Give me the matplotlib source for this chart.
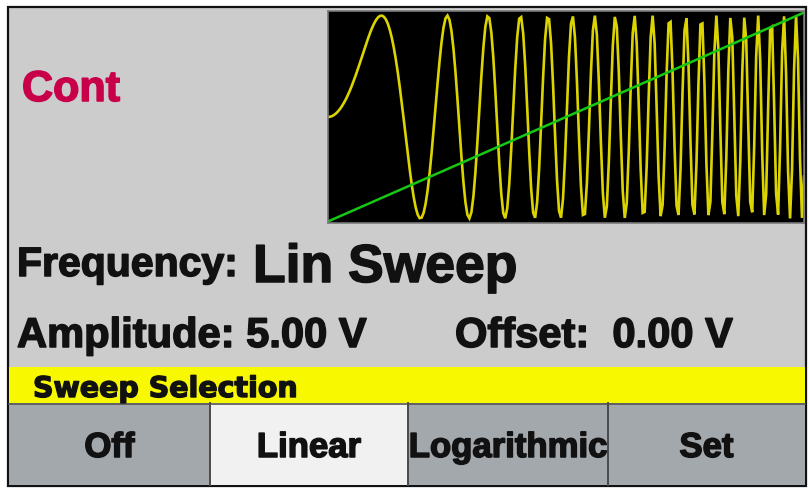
import numpy as np
import matplotlib
matplotlib.use("Agg")
import matplotlib.pyplot as plt
from matplotlib.patches import Rectangle
import matplotlib.patheffects as pe

# ---- screen content ----
mode_label = "Cont"
freq_label = "Frequency:"
freq_value = "Lin Sweep"
amp_label = "Amplitude:"
amp_value = 5.00          # V
offset_label = "Offset:"
offset_value = 0.00       # V
menu_title = "Sweep Selection"
softkeys = ["Off", "Linear", "Logarithmic", "Set"]
selected_key = "Linear"

# sweep preview parameters: linear chirp starting at 0 Hz
sweep_cycles = 19.9       # cycles reached across the preview window
preview_samples = 240     # display sample columns of the preview
ramp_start, ramp_end = -1.03, 1.03   # sweep ramp (normalised)

# ---- colours ----
BG = "#cccccc"
KEY_GRAY = "#a3a8ad"
KEY_SEL = "#f1f1f1"
BAR_YEL = "#f8f800"
MODE_RED = "#c8004a"
WAVE_YEL = "#dcd400"
RAMP_GRN = "#14c814"
INK = "#111111"

W, H = 809, 491
fig = plt.figure(figsize=(W / 100, H / 100), dpi=100)
fig.patch.set_facecolor("white")
ax = fig.add_axes([0, 0, 1, 1])
ax.set_xlim(0, W)
ax.set_ylim(H, 0)
ax.axis("off")


def heavy(color, w=1.1):
    return [pe.withStroke(linewidth=w, foreground=color)]


# screen frame
ax.add_patch(Rectangle((8, 7), 798, 479, facecolor=BG, edgecolor="#111111", lw=1.6, zorder=1))

# yellow menu title bar
ax.add_patch(Rectangle((9, 367), 796, 36, facecolor=BAR_YEL, edgecolor="none", zorder=2))

# softkeys
key_edges = [9, 210, 408, 608, 805]
for i, key in enumerate(softkeys):
    x0, x1 = key_edges[i], key_edges[i + 1]
    fc = KEY_SEL if key == selected_key else KEY_GRAY
    ax.add_patch(Rectangle((x0, 403), x1 - x0, 82, facecolor=fc, edgecolor="none", zorder=2))
    ax.text((x0 + x1) / 2, 457, key, ha="center", va="baseline",
            fontsize=25, fontweight="bold", family="Liberation Sans", color=INK, zorder=4,
            path_effects=heavy(INK))
ax.plot([9, 805], [403.5, 403.5], color="#555555", lw=1.2, zorder=3)
for xe in key_edges[1:-1]:
    ax.plot([xe, xe], [403, 485], color="#4a4a4a", lw=1.4, zorder=3)

ax.text(33, 397, menu_title, ha="left", va="baseline", fontsize=20.5,
        fontweight="bold", family="DejaVu Sans", color=INK, zorder=4,
        path_effects=heavy(INK, 1.0))

# text lines
ax.text(22, 101, mode_label, ha="left", va="baseline", fontsize=31,
        fontweight="bold", family="Liberation Sans", color=MODE_RED, zorder=4,
        path_effects=heavy(MODE_RED))
ax.text(17, 276, freq_label, ha="left", va="baseline", fontsize=29.5,
        fontweight="bold", family="Liberation Sans", color=INK, zorder=4,
        path_effects=heavy(INK))
ax.text(253, 282, freq_value, ha="left", va="baseline", fontsize=38.5,
        fontweight="bold", family="Liberation Sans", color=INK, zorder=4,
        path_effects=heavy(INK))
ax.text(17, 347, f"{amp_label} {amp_value:.2f} V", ha="left", va="baseline", fontsize=30,
        fontweight="bold", family="Liberation Sans", color=INK, zorder=4,
        path_effects=heavy(INK))
ax.text(455, 347, f"{offset_label}  {offset_value:.2f} V", ha="left", va="baseline", fontsize=30,
        fontweight="bold", family="Liberation Sans", color=INK, zorder=4,
        path_effects=heavy(INK))

# sweep preview window
bx0, bx1, by0, by1 = 328, 804, 11, 223
wax = fig.add_axes([bx0 / W, 1 - by1 / H, (bx1 - bx0) / W, (by1 - by0) / H])
wax.set_facecolor("black")
for s in wax.spines.values():
    s.set_color("#7a7a7a")
    s.set_linewidth(1.2)
wax.set_xticks([])
wax.set_yticks([])

t = np.linspace(0, 1, preview_samples)
wave = np.sin(2 * np.pi * sweep_cycles * t ** 2)
wax.plot(t, wave, color=WAVE_YEL, lw=1.9, solid_joinstyle="miter")
wax.plot([0, 1], [ramp_start, ramp_end], color=RAMP_GRN, lw=1.8)
wax.set_xlim(0, 1)
wax.set_ylim(-1.045, 1.045)

fig.savefig("out.png", dpi=100, facecolor="white")
